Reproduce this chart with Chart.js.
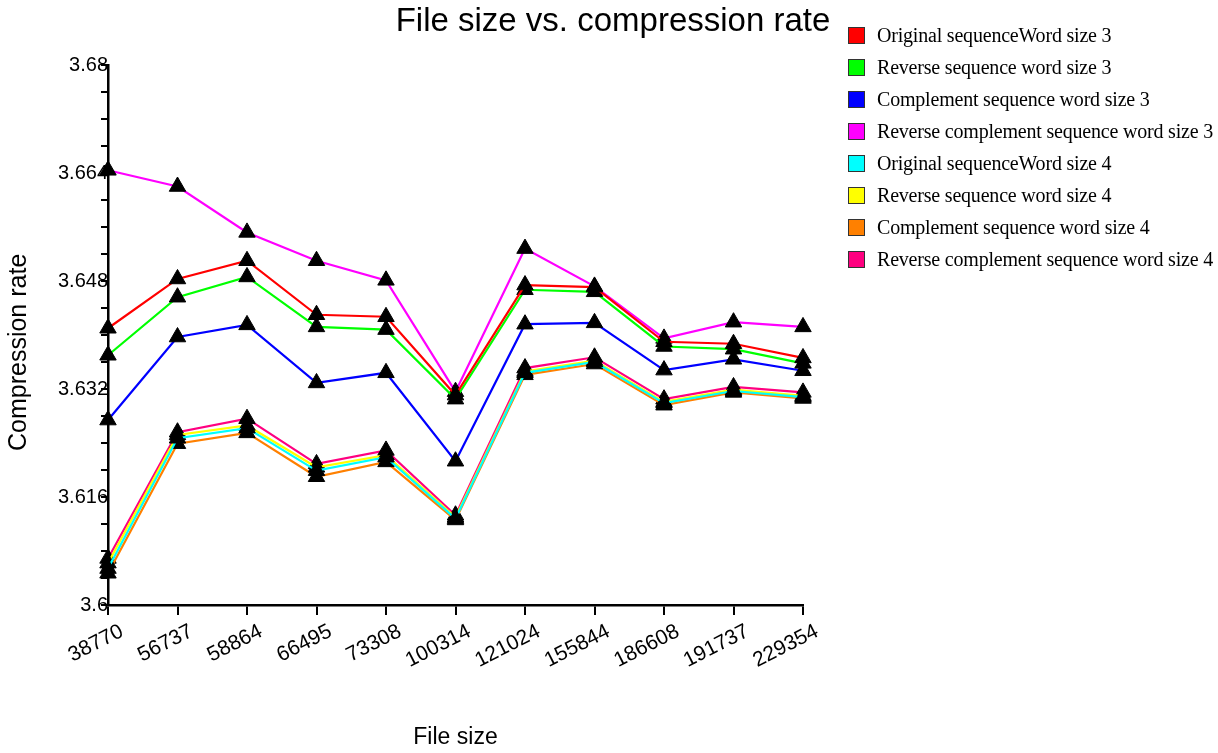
<!DOCTYPE html>
<html>
<head>
<meta charset="utf-8">
<script src="https://cdn.jsdelivr.net/npm/chart.js@4.4.1/dist/chart.umd.min.js"></script>
<style>
  html, body { margin: 0; padding: 0; background: #fff; }
  #wrap { position: relative; width: 1218px; height: 753px; }
  #title { position: absolute; left: 313px; top: 1px; width: 600px; text-align: center;
           font: 33px "Liberation Sans", Arial, sans-serif; color: #000; white-space: nowrap; }
  #legend { position: absolute; left: 848px; top: 19px; font: 20px "Liberation Serif", serif; color: #000; }
  .row { height: 32px; display: flex; align-items: center; white-space: nowrap; letter-spacing: -0.2px; }
  .box { width: 15px; height: 15px; border: 1px solid #333; margin-right: 12px; flex: none; }
</style>
</head>
<body>
<div id="wrap">
  <canvas id="chart" width="1218" height="753"></canvas>
  <div id="title">File size vs. compression rate</div>
  <div id="legend"></div>
</div>
<script>
const fileSizes = ['38770', '56737', '58864', '66495', '73308', '100314', '121024', '155844', '186608', '191737', '229354'];

const seriesNames = [
    'Original sequenceWord size 3',
    'Reverse sequence word size 3',
    'Complement sequence word size 3',
    'Reverse complement sequence word size 3',
    'Original sequenceWord size 4',
    'Reverse sequence word size 4',
    'Complement sequence word size 4',
    'Reverse complement sequence word size 4'
];
const seriesColors = ['#ff0000', '#00ff00', '#0000ff', '#ff00ff', '#00ffff', '#ffff00', '#ff8000', '#ff0080'];

const origW3    = [3.6410, 3.6483, 3.6510, 3.6430, 3.6427, 3.6311, 3.6474, 3.6471, 3.6390, 3.6387, 3.6366];
const revW3     = [3.6370, 3.6456, 3.6486, 3.6412, 3.6408, 3.6305, 3.6467, 3.6464, 3.6383, 3.6379, 3.6358];
const compW3    = [3.6274, 3.6397, 3.6415, 3.6329, 3.6344, 3.6213, 3.6416, 3.6418, 3.6348, 3.6364, 3.6347];
const revCompW3 = [3.6644, 3.6620, 3.6552, 3.6510, 3.6481, 3.6316, 3.6528, 3.6472, 3.6395, 3.6419, 3.6412];
const origW4    = [3.6054, 3.6247, 3.6262, 3.6199, 3.6219, 3.6128, 3.6344, 3.6360, 3.6299, 3.6317, 3.6308];
const revW4     = [3.6062, 3.6252, 3.6266, 3.6204, 3.6222, 3.6130, 3.6346, 3.6362, 3.6301, 3.6319, 3.6310];
const compW4    = [3.6047, 3.6239, 3.6255, 3.6190, 3.6212, 3.6126, 3.6341, 3.6357, 3.6296, 3.6315, 3.6306];
const revCompW4 = [3.6069, 3.6256, 3.6276, 3.6209, 3.6229, 3.6133, 3.6351, 3.6367, 3.6305, 3.6323, 3.6315];

const seriesValues = [origW3, revW3, compW3, revCompW3, origW4, revW4, compW4, revCompW4];

const yTickLabels = ['3.6', '3.616', '3.632', '3.648', '3.664', '3.68'];

const SANS = "'Liberation Sans', Arial, sans-serif";

// legend (html, from the series arrays)
const legendEl = document.getElementById('legend');
seriesNames.forEach((name, i) => {
    const row = document.createElement('div');
    row.className = 'row';
    row.innerHTML = `<span class="box" style="background:${seriesColors[i]}"></span><span>${name}</span>`;
    legendEl.appendChild(row);
});

new Chart(document.getElementById('chart'), {
    type: 'line',
    data: {
        labels: fileSizes,
        datasets: seriesValues.map((vals, i) => ({
            label: seriesNames[i], data: vals,
            borderColor: seriesColors[i], backgroundColor: '#000', borderWidth: 2.2,
            pointStyle: 'triangle', pointRadius: 9.5, pointBackgroundColor: '#000', pointBorderColor: '#000',
            pointBorderWidth: 1, tension: 0, fill: false
        }))
    },
    options: {
        responsive: false, animation: false,
        layout: { padding: { left: 0, top: 65, right: 415, bottom: 0 } },
        plugins: { legend: { display: false }, tooltip: { enabled: false } },
        scales: {
            x: {
                offset: false,
                border: { color: '#000', width: 2.5 },
                grid: { display: true, drawOnChartArea: false, drawTicks: true, tickLength: 10, color: '#000', lineWidth: 2 },
                ticks: { color: '#000', font: { family: SANS, size: 21 }, minRotation: 27, maxRotation: 27, labelOffset: 14, padding: 4, autoSkip: false },
                title: { display: true, text: 'File size', color: '#000', font: { family: SANS, size: 23 }, padding: { top: 0, bottom: 2 } },
                afterFit: s => { s.height = 148; }
            },
            y: {
                min: 3.6, max: 3.68,
                border: { color: '#000', width: 2.5 },
                grid: { display: true, drawOnChartArea: false, drawTicks: true, tickLength: 7, color: '#000', lineWidth: 2 },
                ticks: {
                    stepSize: 0.004, color: '#000', padding: -7, font: { family: SANS, size: 20 },
                    callback: v => {
                        const k = Math.round((v - 3.6) * 1000);
                        return k % 16 === 0 ? yTickLabels[k / 16] : '';
                    }
                },
                // trailing spaces nudge the centred title down a little, as in the original
                title: { display: true, text: 'Compression rate\u00a0\u00a0\u00a0\u00a0\u00a0', color: '#000', font: { family: SANS, size: 25 }, padding: { top: 4, bottom: 0 } },
                afterFit: s => { s.width = 108; }
            }
        }
    }
});
</script>
</body>
</html>
